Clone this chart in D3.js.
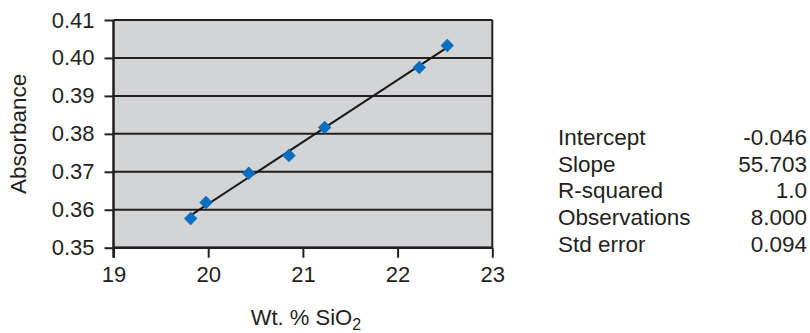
<!DOCTYPE html>
<html lang="en">
<head>
<meta charset="UTF-8" />
<title>Absorbance vs Wt. % SiO2</title>
<style>
  body { margin: 0; background: #fff; }
  text { font-family: "Liberation Sans", Arial, sans-serif; fill: #231f20; }
</style>
</head>
<body>
<svg width="810" height="333"></svg>
<script src="https://cdn.jsdelivr.net/npm/d3@7"></script>
<script>
// data
var silica = [19.815, 19.977, 20.428, 20.853, 21.230, 22.229, 22.525];
var absorbance = [0.3577, 0.3619, 0.3696, 0.3743, 0.3817, 0.3975, 0.4033];
var xTicks = [19, 20, 21, 22, 23];
var yTicks = [0.35, 0.36, 0.37, 0.38, 0.39, 0.40, 0.41];
var statLabels = ["Intercept", "Slope", "R-squared", "Observations", "Std error"];
var statValues = ["-0.046", "55.703", "1.0", "8.000", "0.094"];

var svg = d3.select("svg"),
    margin = {top: 20, left: 113.5},
    width = 378.8,
    height = 227.7,
    g = svg.append("g").attr("transform", "translate(" + margin.left + "," + margin.top + ")");

var x = d3.scaleLinear().domain([19, 23]).range([0, width]);
var y = d3.scaleLinear().domain([0.35, 0.41]).range([height, 0]);

// plot background
g.append("rect")
    .attr("width", width)
    .attr("height", height)
    .attr("fill", "#d3d4d6");

// horizontal gridlines
g.append("g")
    .selectAll("line")
    .data(yTicks)
    .enter().append("line")
    .attr("x1", 0)
    .attr("x2", width)
    .attr("y1", function(d) { return y(d); })
    .attr("y2", function(d) { return y(d); })
    .attr("stroke", "#231f20")
    .attr("stroke-width", 2);

// right border
g.append("line")
    .attr("x1", width).attr("x2", width)
    .attr("y1", 0).attr("y2", height)
    .attr("stroke", "#231f20")
    .attr("stroke-width", 2);

// axes
var yAxis = g.append("g")
    .call(d3.axisLeft(y).tickValues(yTicks).tickSize(9).tickPadding(10).tickFormat(d3.format(".2f")));
var xAxis = g.append("g")
    .attr("transform", "translate(0," + height + ")")
    .call(d3.axisBottom(x).tickValues(xTicks).tickSize(10).tickPadding(9).tickFormat(d3.format("d")));

[yAxis, xAxis].forEach(function(a) {
    a.select(".domain").attr("stroke", "#231f20").attr("stroke-width", 2.5);
    a.selectAll(".tick line").attr("stroke", "#231f20").attr("stroke-width", 2);
    a.selectAll(".tick text")
        .attr("font-size", "22px")
        .attr("font-family", "Liberation Sans, Arial, sans-serif")
        .attr("fill", "#231f20");
});
xAxis.select(".domain").attr("d", "M0,0H" + width);
yAxis.select(".domain").attr("d", "M0,0V" + (height + 10));

// least-squares trend line through the points
var mx = d3.mean(silica), my = d3.mean(absorbance);
var sxy = d3.sum(silica, function(v, i) { return (v - mx) * (absorbance[i] - my); });
var sxx = d3.sum(silica, function(v) { return (v - mx) * (v - mx); });
var b = sxy / sxx, a0 = my - b * mx;
var fitX = [d3.min(silica) + 0.02, d3.max(silica) - 0.02];

g.append("path")
    .datum(fitX)
    .attr("fill", "none")
    .attr("stroke", "#1a1a1a")
    .attr("stroke-width", 2)
    .attr("d", d3.line()
        .x(function(d) { return x(d); })
        .y(function(d) { return y(a0 + b * d); }));

// diamond markers
g.append("g")
    .selectAll("path")
    .data(silica)
    .enter().append("path")
    .attr("d", d3.symbol().type(d3.symbolSquare).size(90))
    .attr("transform", function(d, i) {
        return "translate(" + x(d) + "," + y(absorbance[i]) + ") rotate(45)";
    })
    .attr("fill", "#0a6fc0");

// axis titles
svg.append("text")
    .attr("transform", "translate(26," + (margin.top + height / 2) + ") rotate(-90)")
    .attr("text-anchor", "middle")
    .attr("font-size", "22.5px")
    .text("Absorbance");

var xt = svg.append("text")
    .attr("x", margin.left + width / 2 + 3)
    .attr("y", 325)
    .attr("text-anchor", "middle")
    .attr("font-size", "22px");
xt.append("tspan").text("Wt. % SiO");
xt.append("tspan").attr("font-size", "16px").attr("dy", 5).text("2");

// regression summary
var stats = svg.append("g");
stats.selectAll("text.lab")
    .data(statLabels)
    .enter().append("text")
    .attr("class", "lab")
    .attr("x", 558)
    .attr("y", function(d, i) { return 145 + i * 26.7; })
    .attr("font-size", "22.5px")
    .text(function(d) { return d; });
stats.selectAll("text.val")
    .data(statValues)
    .enter().append("text")
    .attr("class", "val")
    .attr("x", 807)
    .attr("y", function(d, i) { return 145 + i * 26.7; })
    .attr("text-anchor", "end")
    .attr("font-size", "22.5px")
    .text(function(d) { return d; });
</script>
</body>
</html>
